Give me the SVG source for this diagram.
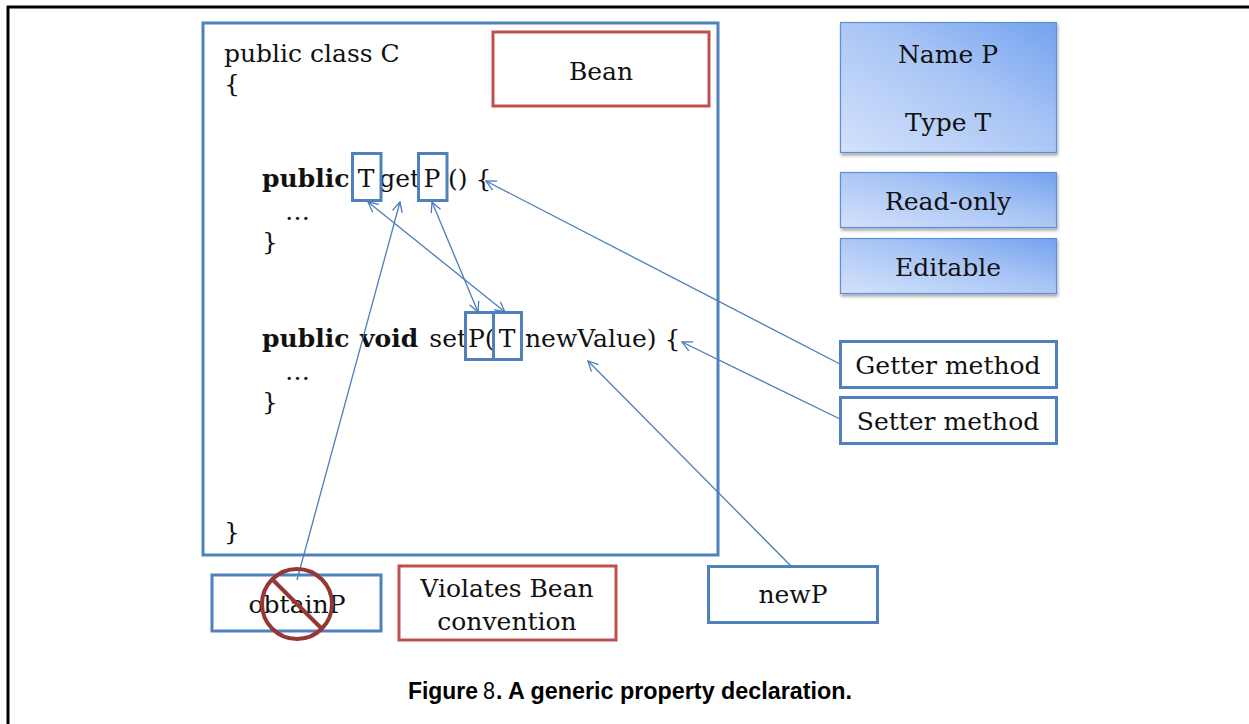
<svg xmlns="http://www.w3.org/2000/svg" width="1249" height="724" viewBox="0 0 1249 724">
<style>
.code{font-family:"DejaVu Serif","Liberation Serif",serif;font-size:25px;fill:#111}
.b{font-weight:bold}
.lbl{font-family:"DejaVu Serif","Liberation Serif",serif;font-size:25px;fill:#111;text-anchor:middle}
.blue{fill:none;stroke:#4f81bd;stroke-width:3}
.red{fill:none;stroke:#c0504d;stroke-width:3}
.grad{fill:url(#g);stroke:#5d8fd4;stroke-width:1.2;filter:url(#sh)}
.conn{fill:none;stroke:#4a7ebb;stroke-width:1.3}
.cap{font-family:"Liberation Sans",Arial,sans-serif;font-size:23px;fill:#000}
</style>
<defs>
<linearGradient id="g" x1="0" y1="1" x2="1" y2="0">
<stop offset="0" stop-color="#d3e2fb"/>
<stop offset="0.55" stop-color="#a9c5f5"/>
<stop offset="1" stop-color="#74a2ee"/>
</linearGradient>
<filter id="sh" x="-10%" y="-10%" width="130%" height="140%">
<feDropShadow dx="1" dy="2.5" stdDeviation="1.5" flood-color="#000" flood-opacity="0.35"/>
</filter>
<marker id="ah" markerWidth="12" markerHeight="12" refX="11" refY="6" orient="auto-start-reverse" markerUnits="userSpaceOnUse">
<path d="M1,1 L11,6 L1,11" fill="none" stroke="#4a7ebb" stroke-width="1.3"/>
</marker>
</defs>
<rect width="1249" height="724" fill="#fff"/>
<g id="page-border">
<line x1="7" y1="7" x2="1249" y2="7" stroke="#000" stroke-width="3"/>
<line x1="8" y1="6" x2="8" y2="724" stroke="#000" stroke-width="3"/>
</g>
<g id="class-C">
<rect class="blue" x="203" y="23" width="515" height="532"/>
<text class="code" x="224" y="62">public class C</text>
<text class="code" x="224" y="92">{</text>
<text class="code b" x="262" y="187">public</text>
<text class="code" x="366" y="187" text-anchor="middle">T</text>
<text class="code" x="420" y="187" text-anchor="end">get</text>
<text class="code" x="432" y="187" text-anchor="middle">P</text>
<text class="code" x="448" y="187">() {</text>
<text class="code" x="285" y="220">…</text>
<text class="code" x="262" y="250">}</text>
<text class="code b" x="262" y="347">public</text>
<text class="code b" x="360" y="347">void</text>
<text class="code" x="467" y="347" text-anchor="end">set</text>
<text class="code" x="468" y="347">P(</text>
<text class="code" x="507" y="347" text-anchor="middle">T</text>
<text class="code" x="525" y="347">newValue) {</text>
<text class="code" x="285" y="380">…</text>
<text class="code" x="262" y="410">}</text>
<text class="code" x="224" y="540">}</text>
<rect class="blue" x="352.5" y="153.5" width="28.5" height="47"/>
<rect class="blue" x="418.5" y="153.5" width="28.5" height="47"/>
<rect class="blue" x="465.5" y="312.5" width="28" height="47"/>
<rect class="blue" x="493.5" y="312.5" width="28" height="47"/>
</g>
<g id="bean">
<rect class="red" x="493" y="32" width="216" height="74"/>
<text class="lbl" x="601" y="80">Bean</text>
</g>
<g id="name-type">
<rect class="grad" x="840.5" y="22.5" width="216" height="130"/>
<text class="lbl" x="948" y="63">Name P</text>
<text class="lbl" x="948" y="131">Type T</text>
</g>
<g id="read-only">
<rect class="grad" x="840.5" y="172.5" width="216" height="55"/>
<text class="lbl" x="948" y="210">Read-only</text>
</g>
<g id="editable">
<rect class="grad" x="840.5" y="238.5" width="216" height="55"/>
<text class="lbl" x="948" y="276">Editable</text>
</g>
<g id="getter">
<rect class="blue" x="840.5" y="341.5" width="216" height="46"/>
<text class="lbl" x="948" y="374">Getter method</text>
</g>
<g id="setter">
<rect class="blue" x="840.5" y="397.5" width="216" height="46"/>
<text class="lbl" x="948" y="430">Setter method</text>
</g>
<g id="connectors">
<line class="conn" x1="368" y1="202" x2="505" y2="312" marker-start="url(#ah)" marker-end="url(#ah)"/>
<line class="conn" x1="432" y1="202" x2="478" y2="312" marker-start="url(#ah)" marker-end="url(#ah)"/>
<line class="conn" x1="840" y1="364" x2="486" y2="181" marker-end="url(#ah)"/>
<line class="conn" x1="840" y1="419" x2="682" y2="342" marker-end="url(#ah)"/>
<line class="conn" x1="791" y1="566" x2="588" y2="361" marker-end="url(#ah)"/>
<line class="conn" x1="297" y1="580" x2="400" y2="202" marker-end="url(#ah)"/>
</g>
<g id="obtainP">
<rect class="blue" x="212" y="575" width="169" height="56"/>
<text class="lbl" x="297" y="613">obtainP</text>
<circle cx="297" cy="604" r="35" fill="none" stroke="#953735" stroke-width="4"/>
<line x1="272" y1="579" x2="322" y2="629" stroke="#953735" stroke-width="4"/>
</g>
<g id="violates">
<rect class="red" x="399" y="566" width="217" height="74"/>
<text class="lbl" x="507" y="597">Violates Bean</text>
<text class="lbl" x="507" y="630">convention</text>
</g>
<g id="newP">
<rect class="blue" x="708.5" y="566.5" width="169" height="56"/>
<text class="lbl" x="793" y="603">newP</text>
</g>
<g id="caption">
<text class="cap" x="408" y="699" font-weight="bold" textLength="70" lengthAdjust="spacingAndGlyphs">Figure</text>
<text class="cap" x="483" y="699" textLength="12" lengthAdjust="spacingAndGlyphs">8</text>
<text class="cap" x="496" y="699" font-weight="bold" textLength="356" lengthAdjust="spacingAndGlyphs">. A generic property declaration.</text>
</g>
</svg>
